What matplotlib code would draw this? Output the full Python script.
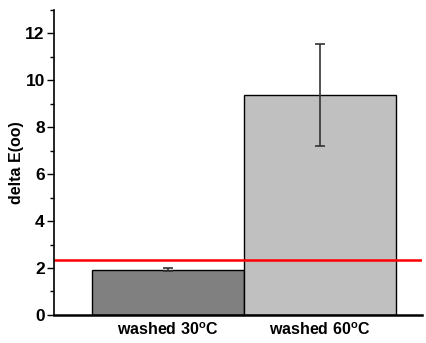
import matplotlib
matplotlib.use('Agg')
import matplotlib.pyplot as plt
from matplotlib.ticker import MultipleLocator

plt.rcParams['font.family'] = 'Liberation Sans'
plt.rcParams['font.weight'] = 'bold'
plt.rcParams['mathtext.fontset'] = 'custom'
plt.rcParams['mathtext.rm'] = 'Liberation Sans:bold'
plt.rcParams['mathtext.bf'] = 'Liberation Sans:bold'

# data
labels = [r'washed 30$^{\mathrm{o}}$C', r'washed 60$^{\mathrm{o}}$C']
values = [1.93, 9.37]
errors = [0.05, 2.17]
colors = ['#808080', '#c0c0c0']
threshold = 2.34

fig = plt.figure(figsize=(4.27, 3.43), dpi=100)
ax = fig.add_axes([0.126, 0.082, 0.862, 0.889])

x = [1, 2]
ax.bar(x, values, width=1.0, color=colors, edgecolor='black', linewidth=1.0)
ax.errorbar(x, values, yerr=errors, fmt='none', ecolor='#333333', elinewidth=1.2,
            capsize=3.5, capthick=1.2)
ax.axhline(threshold, color='red', linewidth=1.8)

ax.set_xlim(0.25, 2.67)
ax.set_ylim(0, 13)
ax.set_xticks(x)
ax.set_xticklabels(labels, fontsize=11.5, fontweight='bold')
ax.tick_params(axis='x', length=0, pad=5)
ax.yaxis.set_major_locator(MultipleLocator(2))
ax.yaxis.set_minor_locator(MultipleLocator(1))
ax.tick_params(axis='y', which='major', length=5, width=1, labelsize=12.5, pad=1.5)
ax.tick_params(axis='y', which='minor', length=3, width=1)
for lab in ax.get_yticklabels():
    lab.set_fontweight('bold')
ax.set_ylabel('delta E(oo)', fontsize=11.5, fontweight='bold', labelpad=1)

ax.spines['top'].set_visible(False)
ax.spines['right'].set_visible(False)
ax.spines['left'].set_linewidth(1.2)
ax.spines['bottom'].set_linewidth(1.8)

fig.savefig('out.png', dpi=100)
